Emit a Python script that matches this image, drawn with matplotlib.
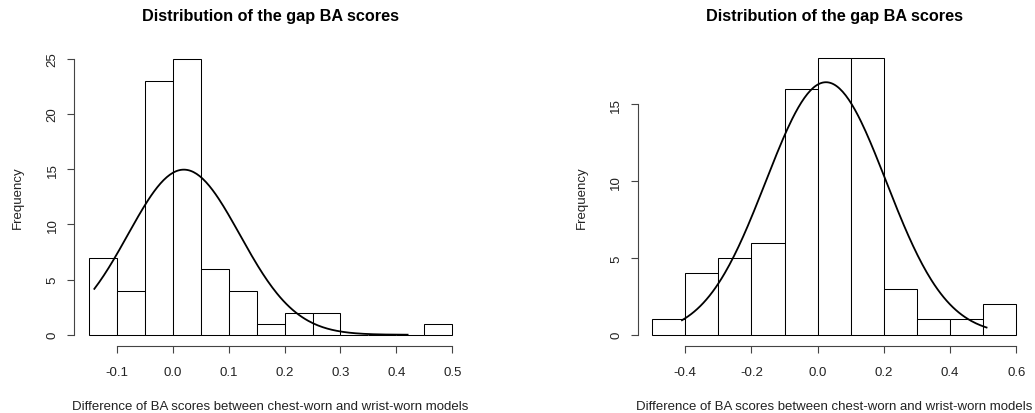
import numpy as np
import matplotlib
matplotlib.use('Agg')
import matplotlib.pyplot as plt

plt.rcParams['font.family'] = ['Liberation Sans', 'DejaVu Sans']

# histogram 1: bins of 0.05
edges_1 = [-0.15, -0.10, -0.05, 0.00, 0.05, 0.10, 0.15, 0.20, 0.25, 0.30, 0.35, 0.40, 0.45, 0.50]
counts_1 = [7, 4, 23, 25, 6, 4, 1, 2, 2, 0, 0, 0, 1]
xticks_1 = [-0.1, 0.0, 0.1, 0.2, 0.3, 0.4, 0.5]
yticks_1 = [0, 5, 10, 15, 20, 25]
fit_1 = dict(mean=0.02, sd=0.100, lo=-0.14, hi=0.42)

# histogram 2: bins of 0.1
edges_2 = [-0.5, -0.4, -0.3, -0.2, -0.1, 0.0, 0.1, 0.2, 0.3, 0.4, 0.5, 0.6]
counts_2 = [1, 4, 5, 6, 16, 18, 18, 3, 1, 1, 2]
xticks_2 = [-0.4, -0.2, 0.0, 0.2, 0.4, 0.6]
yticks_2 = [0, 5, 10, 15]
fit_2 = dict(mean=0.025, sd=0.182, lo=-0.41, hi=0.51)

title = 'Distribution of the gap BA scores'
xlab = 'Difference of BA scores between chest-worn and wrist-worn models'
ylab = 'Frequency'

W, H = 1035, 414
fs = 9.5
fig = plt.figure(figsize=(W / 100, H / 100), dpi=100)


def hist_panel(rect, edges, counts, xticks, yticks, fit):
    ax = fig.add_axes(rect)
    edges = np.array(edges)
    counts = np.array(counts)
    bw = np.diff(edges)
    ax.bar(edges[:-1], counts, width=bw, align='edge', color='white',
           edgecolor='black', linewidth=0.75)

    # fitted normal curve scaled to counts
    n = counts.sum()
    xs = np.linspace(fit['lo'], fit['hi'], 200)
    ys = n * bw[0] * np.exp(-0.5 * ((xs - fit['mean']) / fit['sd']) ** 2) / (fit['sd'] * np.sqrt(2 * np.pi))
    ax.plot(xs, ys, color='black', linewidth=1.3)

    # R style 4% extension
    x0, x1 = edges[0], edges[-1]
    dx = (x1 - x0) * 0.04
    y1 = counts.max()
    dy = y1 * 0.04
    ax.set_xlim(x0 - dx, x1 + dx)
    ax.set_ylim(-dy, y1 + dy)

    for s in ['top', 'right']:
        ax.spines[s].set_visible(False)
    for s in ['left', 'bottom']:
        ax.spines[s].set_color('#444444')
        ax.spines[s].set_linewidth(0.8)
    ax.spines['bottom'].set_bounds(xticks[0], xticks[-1])
    ax.spines['left'].set_bounds(yticks[0], yticks[-1])

    ax.set_xticks(xticks)
    ax.set_xticklabels([f'{t:.1f}' for t in xticks])
    ax.set_yticks(yticks)
    ax.tick_params(length=5.2, width=0.8, color='#444444', labelsize=fs,
                   labelcolor='#222222')
    ax.tick_params(axis='x', pad=9.5)
    ax.tick_params(axis='y', pad=6, labelrotation=90)
    for lab in ax.get_yticklabels():
        lab.set_va('center')

    ax.text(0.5, 1.107, title, transform=ax.transAxes, ha='center', va='center',
            fontsize=11.7, fontweight='bold')
    ax.text(0.5, -0.203, xlab, transform=ax.transAxes, ha='center', va='center',
            fontsize=fs, color='#222222')
    ax.set_ylabel(ylab, fontsize=fs, color='#222222')
    ax.yaxis.set_label_coords(-0.127, 0.5)
    return ax


hist_panel([74.2 / W, 1 - 346.8 / H, 392.7 / W, 298.0 / H],
           edges_1, counts_1, xticks_1, yticks_1, fit_1)
hist_panel([637.6 / W, 1 - 346.8 / H, 393.3 / W, 298.6 / H],
           edges_2, counts_2, xticks_2, yticks_2, fit_2)

fig.savefig('out.png', dpi=100)
